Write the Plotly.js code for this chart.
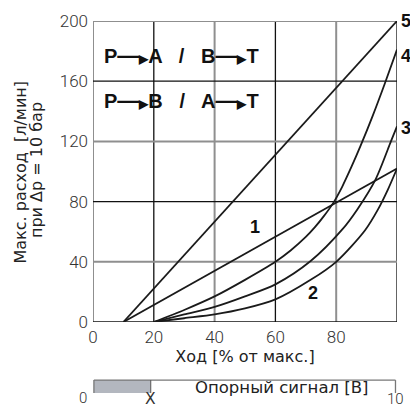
<!DOCTYPE html>
<html>
<head>
<meta charset="utf-8">
<script src="https://cdn.plot.ly/plotly-3.0.1.min.js"></script>
<style>html,body{margin:0;padding:0;background:#fff;}#chart{width:410px;height:410px;}</style>
</head>
<body>
<div id="chart"></div>
<script>
// ---- data ----
const curve5X = [10, 100];
const curve5Y = [0, 200];
const curve1X = [10, 100];
const curve1Y = [0, 102];
const curve4X = [20, 30, 40, 50, 60, 65, 70, 73, 76, 79, 82, 85, 88, 92, 96, 100];
const curve4Y = [0, 8, 17, 28, 40, 47.5, 56.5, 63, 70.5, 79, 90, 103, 117, 137, 158.5, 181];
const curve3X = [20, 30, 40, 50, 60, 71.6, 82, 87, 93, 98, 100];
const curve3Y = [0, 5, 10, 17, 25, 40.5, 61.5, 75, 95, 120, 130];
const curve2X = [20, 30, 40, 50, 60, 71.6, 80, 89.5, 93.8, 97, 100];
const curve2Y = [0, 2.5, 5, 9, 15, 28, 40, 61, 75, 88, 102];

const xTicks = [0, 20, 40, 60, 80, 100];
const yTicks = [0, 40, 80, 120, 160, 200];
const darkGridX = [20, 60, 100];
const grayGridX = [0, 40, 80];
const darkGridY = [0, 80, 160];
const grayGridY = [40, 120, 200];

const xTitle = 'Ход [% от макс.]';
const yTitleLines = ['Макс. расход  [л/мин]', 'при Δp = 10 бар'];
const signalLabel = 'Опорный сигнал [В]';
const signalTicks = ['0', 'X', '10'];
const curveNames = ['1', '2', '3', '4', '5'];
const arrow = '<span style="font-size:22px">—</span><span style="font-size:12px">▶</span>';
const flowLabels = ['P' + arrow + 'A   /   B' + arrow + 'T',
                    'P' + arrow + 'B   /   A' + arrow + 'T'];

// ---- chart ----
const lineStyle = {color: '#1a1a1a', width: 1.8, shape: 'spline', smoothing: 0.8};
const mk = (x, y, name) => ({x, y, name, type: 'scatter', mode: 'lines', line: lineStyle, hoverinfo: 'skip'});
const traces = [
  mk(curve5X, curve5Y, curveNames[4]),
  mk(curve1X, curve1Y, curveNames[0]),
  mk(curve4X, curve4Y, curveNames[3]),
  mk(curve3X, curve3Y, curveNames[2]),
  mk(curve2X, curve2Y, curveNames[1])
];

const shapes = [];
darkGridX.forEach(v => shapes.push({type:'line', xref:'x', yref:'paper', x0:v, x1:v, y0:0, y1:1, line:{color:'#111', width:1.3}, layer:'below'}));
grayGridX.forEach(v => shapes.push({type:'line', xref:'x', yref:'paper', x0:v, x1:v, y0:0, y1:1, line:{color:'#8f8f8f', width:2}, layer:'below'}));
grayGridY.forEach(v => shapes.push({type:'line', xref:'paper', yref:'y', x0:0, x1:1, y0:v, y1:v, line:{color:'#8f8f8f', width:2}, layer:'below'}));
darkGridY.forEach(v => shapes.push({type:'line', xref:'paper', yref:'y', x0:0, x1:1, y0:v, y1:v, line:{color:'#111', width:1.3}, layer:'below'}));
// reference-signal bar
const bt = -0.193, bb = -0.236;
shapes.push({type:'rect', xref:'paper', yref:'paper', x0:0.003, x1:0.19, y0:bb, y1:bt, fillcolor:'#b3b7bf', line:{width:0}});
shapes.push({type:'line', xref:'paper', yref:'paper', x0:0.003, x1:0.995, y0:bt, y1:bt, line:{color:'#777', width:1.3}});
shapes.push({type:'line', xref:'paper', yref:'paper', x0:0.003, x1:0.003, y0:bt, y1:bb, line:{color:'#777', width:1.3}});
shapes.push({type:'line', xref:'paper', yref:'paper', x0:0.19, x1:0.19, y0:bt, y1:bb, line:{color:'#555', width:1}});
shapes.push({type:'line', xref:'paper', yref:'paper', x0:0.995, x1:0.995, y0:bt, y1:bb, line:{color:'#777', width:1.3}});

const numFont = {family: 'Roboto, "Liberation Sans", sans-serif', size: 17, color: '#333', weight: 300};
const smallNumFont = {family: 'Roboto, "Liberation Sans", sans-serif', size: 15, color: '#333', weight: 300};
const boldFont = {family: '"Liberation Sans", Arial, sans-serif', size: 20, color: '#111', weight: 'bold'};
const lblFont = {family: '"Liberation Sans", Arial, sans-serif', size: 18, color: '#111', weight: 'bold'};
const txtFont = {family: '"DejaVu Sans", sans-serif', size: 16, color: '#222'};

const A = (o) => Object.assign({showarrow: false, xanchor: 'center', yanchor: 'middle'}, o);
const annotations = [
  A({x: 0.03, y: 0.885, xref:'paper', yref:'paper', text: flowLabels[0], xanchor:'left', font: boldFont}),
  A({x: 0.03, y: 0.737, xref:'paper', yref:'paper', text: flowLabels[1], xanchor:'left', font: boldFont}),
  A({x: 53.3, y: 63, xref:'x', yref:'y', text: curveNames[0], font: lblFont}),
  A({x: 72.4, y: 19, xref:'x', yref:'y', text: curveNames[1], font: lblFont}),
  A({x: 1.006, y: 129, xref:'paper', yref:'y', text: curveNames[2], xanchor:'left', font: lblFont}),
  A({x: 1.006, y: 177, xref:'paper', yref:'y', text: curveNames[3], xanchor:'left', font: lblFont}),
  A({x: 1.006, y: 200, xref:'paper', yref:'y', text: curveNames[4], xanchor:'left', font: lblFont}),
  A({x: -0.23685, y: 0.5, xref:'paper', yref:'paper', text: yTitleLines[0], textangle: -90, font: txtFont}),
  A({x: -0.1842, y: 0.505, xref:'paper', yref:'paper', text: yTitleLines[1], textangle: -90, font: txtFont}),
  A({x: -0.033, y: -0.252, xref:'paper', yref:'paper', text: signalTicks[0], font: smallNumFont}),
  A({x: 0.19, y: -0.255, xref:'paper', yref:'paper', text: signalTicks[1], font: {family: '"DejaVu Sans", sans-serif', size: 15.5, color:'#333'}}),
  A({x: 0.995, y: -0.255, xref:'paper', yref:'paper', text: signalTicks[2], font: smallNumFont}),
  A({x: 0.62, y: -0.218, xref:'paper', yref:'paper', text: signalLabel, font: {family: '"DejaVu Sans", sans-serif', size: 16.5, color: '#222'}})
];

const layout = {
  width: 410, height: 410,
  margin: {l: 93, r: 13, t: 21, b: 88},
  paper_bgcolor: '#fff', plot_bgcolor: '#fff',
  showlegend: false,
  xaxis: {range: [0, 100], tickvals: xTicks, ticktext: xTicks.map(String), showgrid: false, zeroline: false, showline: false,
          ticks: '', tickfont: numFont, ticklabelstandoff: 3,
          title: {text: xTitle, font: txtFont, standoff: 2}},
  yaxis: {range: [0, 200], tickvals: yTicks, ticktext: yTicks.map(String), showgrid: false, zeroline: false, showline: false,
          ticks: '', tickfont: numFont, ticklabelstandoff: 4},
  shapes, annotations
};

Plotly.newPlot('chart', traces, layout, {staticPlot: true, displayModeBar: false});
</script>
</body>
</html>
